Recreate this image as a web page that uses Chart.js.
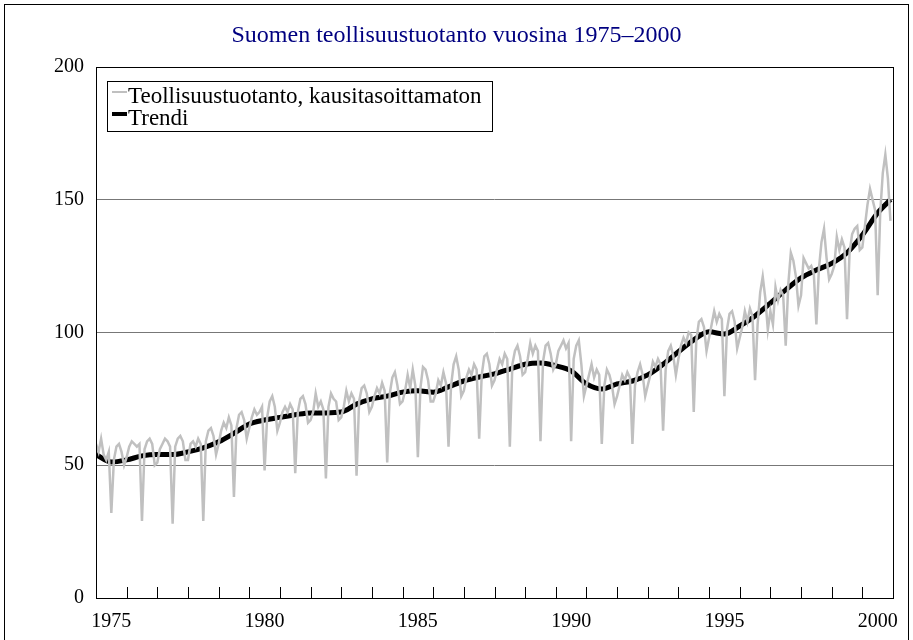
<!DOCTYPE html>
<html lang="fi">
<head>
    <meta charset="UTF-8">
    <title>Suomen teollisuustuotanto vuosina 1975–2000</title>
    <script src="https://cdn.jsdelivr.net/npm/chart.js"></script>
    <style>
        body {
            margin: 0;
            background: #fff;
        }
        .frame {
            position: absolute;
            left: 4px;
            top: 4px;
            width: 903px;
            height: 700px;
            border: 1px solid #000;
        }
        canvas {
            position: absolute;
            left: 0;
            top: 0;
        }
    </style>
</head>
<body>
    <div class="frame"></div>
    <canvas id="chart" width="913" height="640"></canvas>

    <script>
        // kuukausittainen tuotanto, tammikuu 1975 - joulukuu 2000
        const alkuvuosi = 1975;
        const tuotanto = [
            58, 55, 60, 54, 52, 55, 32, 52, 57, 58, 55, 50,   // 1975
            53, 57, 59, 58, 57, 58, 29, 56, 59, 60, 58, 50,   // 1976
            51, 56, 58, 60, 59, 57, 28, 57, 60, 61, 59, 52,   // 1977
            52, 58, 59, 57, 60, 58, 29, 59, 63, 64, 61, 54,   // 1978
            58, 63, 66, 64, 68, 65, 38, 64, 69, 70, 67, 60,   // 1979
            64, 68, 71, 69, 70, 72, 48, 68, 74, 76, 72, 63,   // 1980
            66, 70, 72, 70, 73, 71, 47, 70, 75, 76, 73, 66,   // 1981
            67, 70, 77, 72, 74, 71, 45, 72, 77, 75, 74, 67,   // 1982
            68, 72, 78, 74, 77, 75, 46, 74, 79, 80, 77, 70,   // 1983
            72, 76, 79, 77, 81, 78, 51, 77, 83, 85, 80, 73,   // 1984
            74, 78, 84, 79, 86, 80, 53, 79, 87, 86, 82, 74,   // 1985
            74, 77, 82, 80, 85, 81, 57, 80, 88, 91, 86, 76,   // 1986
            78, 83, 86, 84, 88, 86, 60, 84, 91, 92, 88, 80,   // 1987
            82, 86, 90, 88, 92, 90, 57, 88, 93, 95, 91, 84,   // 1988
            85, 90, 96, 92, 95, 93, 59, 89, 95, 96, 92, 86,   // 1989
            88, 93, 95, 97, 94, 96, 59, 90, 95, 97, 88, 76,   // 1990
            80, 84, 88, 83, 86, 84, 58, 80, 86, 84, 80, 73,   // 1991
            76, 80, 84, 82, 85, 83, 58, 80, 85, 88, 84, 76,   // 1992
            80, 84, 89, 87, 90, 88, 63, 86, 93, 95, 91, 84,   // 1993
            90, 95, 98, 96, 100, 99, 70, 97, 104, 105, 102, 93,   // 1994
            98, 103, 108, 104, 107, 105, 76, 101, 107, 108, 104, 94,   // 1995
            98, 102, 108, 104, 109, 106, 82, 103, 115, 121, 113, 101,   // 1996
            108, 103, 117, 112, 116, 114, 95, 118, 130, 127, 121, 110,   // 1997
            114, 128, 126, 124, 125, 122, 103, 124, 134, 139, 128, 120,   // 1998
            122, 125, 136, 131, 135, 132, 105, 130, 137, 139, 140, 131,   // 1999
            132, 140, 148, 154, 150, 146, 114, 145, 160, 167, 158, 142    // 2000
        ];

        // trendi puolen vuoden välein
        const trendiVuodet = [
            1975, 1975.5, 1976, 1976.5, 1977, 1977.5, 1978, 1978.5, 1979, 1979.5,
            1980, 1980.5, 1981, 1981.5, 1982, 1982.5, 1983, 1983.5, 1984, 1984.5,
            1985, 1985.5, 1986, 1986.5, 1987, 1987.5, 1988, 1988.5, 1989, 1989.5,
            1990, 1990.5, 1991, 1991.5, 1992, 1992.5, 1993, 1993.5, 1994, 1994.5,
            1995, 1995.5, 1996, 1996.5, 1997, 1997.5, 1998, 1998.5, 1999, 1999.5,
            2000, 2000.5, 2000.92
        ];
        const trendi = [
            54, 51.2, 52, 53.5, 54, 54, 55, 56.5, 58.8, 62,
            65.5, 67, 68, 69, 69.7, 69.7, 70, 73, 75, 76,
            77.5, 78, 77.5, 79.5, 81.7, 83.2, 84.4, 86.2, 88, 88.5,
            87.4, 85.5, 80.6, 78.7, 80.6, 81.7, 84, 88, 92.7, 97.2,
            100.2, 99.4, 102.4, 106.2, 111, 116, 120.5, 123.5, 126, 130,
            136.7, 145, 150
        ];

        const vuosiNimet = [1975, 1980, 1985, 1990, 1995, 2000];
        const yTikit = [0, 50, 100, 150, 200];

        const sarja = tuotanto.map((v, i) => ({ x: alkuvuosi + i / 12, y: v }));
        const trendiSarja = trendi.map((v, i) => ({ x: trendiVuodet[i], y: v }));

        const fontti = "'Liberation Serif', 'Times New Roman', serif";

        // kehys, pienet vuosiviivat alareunaan ja selite kehystettynä
        const kehys = {
            id: 'kehys',
            afterDraw(chart) {
                const { ctx, chartArea: a, scales } = chart;
                ctx.save();
                ctx.strokeStyle = '#000';
                ctx.lineWidth = 1;
                for (let v = 1976; v <= 2000; v++) {
                    const x = Math.round(scales.x.getPixelForValue(v)) + 0.5;
                    ctx.beginPath();
                    ctx.moveTo(x, a.bottom);
                    ctx.lineTo(x, a.bottom - 11);
                    ctx.stroke();
                }
                ctx.strokeRect(Math.round(a.left) + 0.5, Math.round(a.top) + 0.5,
                    Math.round(a.right - a.left), Math.round(a.bottom - a.top));

                // selite
                const lx = Math.round(a.left) + 11, ly = Math.round(a.top) + 14;
                ctx.fillStyle = '#fff';
                ctx.fillRect(lx, ly, 386, 51);
                ctx.strokeRect(lx + 0.5, ly + 0.5, 385, 50);
                ctx.font = '23px ' + fontti;
                ctx.textBaseline = 'middle';
                ctx.fillStyle = '#000';
                chart.data.datasets.forEach((ds, i) => {
                    const yy = ly + 16 + i * 22;
                    ctx.beginPath();
                    ctx.strokeStyle = ds.borderColor;
                    ctx.lineWidth = i === 0 ? 2 : 4;
                    ctx.moveTo(lx + 5, yy - 5);
                    ctx.lineTo(lx + 20, yy - 5);
                    ctx.stroke();
                    ctx.fillText(ds.label, lx + 21, yy);
                });
                ctx.restore();
            }
        };

        new Chart(document.getElementById('chart'), {
            type: 'line',
            data: {
                datasets: [{
                    label: 'Teollisuustuotanto, kausitasoittamaton',
                    data: sarja,
                    borderColor: '#c0c0c0',
                    borderWidth: 2.5,
                    pointRadius: 0,
                    tension: 0
                }, {
                    label: 'Trendi',
                    data: trendiSarja,
                    borderColor: '#000',
                    borderWidth: 5,
                    pointRadius: 0,
                    cubicInterpolationMode: 'monotone'
                }]
            },
            options: {
                responsive: false,
                animation: false,
                layout: { padding: { left: 20, right: 20, top: 0, bottom: 10 } },
                plugins: {
                    legend: { display: false },
                    tooltip: { enabled: false },
                    title: {
                        display: true,
                        text: 'Suomen teollisuustuotanto vuosina 1975–2000',
                        color: '#000080',
                        font: { family: fontti, size: 24, weight: 'normal' },
                        padding: { top: 21, bottom: 17 }
                    }
                },
                scales: {
                    x: {
                        type: 'linear',
                        min: 1975,
                        max: 2001,
                        grid: { display: false, tickLength: 0 },
                        border: { display: true, color: '#000', width: 1 },
                        afterBuildTicks(scale) {
                            scale.ticks = vuosiNimet.map(v => ({ value: v + 0.5 }));
                        },
                        afterFit(scale) { scale.height = 32; },
                        ticks: {
                            color: '#000',
                            padding: 12,
                            maxRotation: 0,
                            autoSkip: false,
                            font: { family: fontti, size: 20 },
                            callback: v => String(Math.floor(v))
                        }
                    },
                    y: {
                        min: 0,
                        max: 200,
                        afterBuildTicks(scale) {
                            scale.ticks = yTikit.map(v => ({ value: v }));
                        },
                        afterFit(scale) { scale.width = 76; },
                        grid: {
                            color: c => (c.tick.value === 0 || c.tick.value === 200) ? 'rgba(0,0,0,0)' : '#777',
                            drawTicks: false
                        },
                        border: { display: false },
                        ticks: {
                            color: '#000',
                            padding: 12,
                            font: { family: fontti, size: 20 }
                        }
                    }
                }
            },
            plugins: [kehys]
        });
    </script>
</body>
</html>
